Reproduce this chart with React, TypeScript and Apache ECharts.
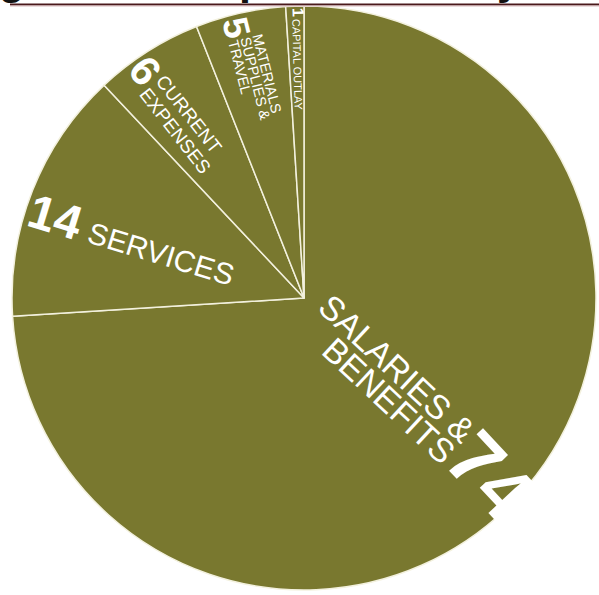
import React, { useEffect, useRef } from 'react';
import * as echarts from 'echarts';

const categories = ['SALARIES & BENEFITS', 'SERVICES', 'CURRENT EXPENSES', 'MATERIALS SUPPLIES & TRAVEL', 'CAPITAL OUTLAY'];
const values = [74, 14, 6, 5, 1];
const nameLines = [['SALARIES &', 'BENEFITS'], ['SERVICES'], ['CURRENT', 'EXPENSES'], ['MATERIALS', 'SUPPLIES &', 'TRAVEL'], ['CAPITAL OUTLAY']];
const titleText = 'Budget Total Expenditures by Category';

// label placement: distance from centre (px), compass angle (deg clockwise from 12 o'clock), rotation (deg)
const numberPlacement = [
  { d: 255, ang: 133.6, rot: -47, size: 78 },
  { d: 258.7, ang: 288.0, rot: -17, size: 48 },
  { d: 274.3, ang: 325.0, rot: -52, size: 42 },
  { d: 275.5, ang: 346.0, rot: -76, size: 36 },
  { d: 282.8, ang: 358.8, rot: -88.5, size: 16 },
];
const namePlacement = [
  { d: 113, ang: 134.3, rot: -43, size: 34, lh: 29, align: 'right' },
  { d: 146.5, ang: 287.1, rot: -17, size: 30, lh: 30, align: 'left' },
  { d: 208.3, ang: 325.2, rot: -52, size: 19, lh: 21, align: 'left' },
  { d: 222, ang: 347.5, rot: -76, size: 14.5, lh: 12.5, align: 'left' },
  { d: 230.5, ang: 358.4, rot: -88.5, size: 11, lh: 11, align: 'left' },
];

const CX = 304;
const CY = 298;
const R = 292;
const OLIVE = '#79782f';
const FONT = "'Liberation Sans', Arial, Helvetica, sans-serif";

function midAngles(): number[] {
  const total = values.reduce((a, b) => a + b, 0);
  const out: number[] = [];
  let acc = 0;
  values.forEach((v) => {
    out.push(((acc + v / 2) / total) * 360);
    acc += v;
  });
  return out;
}

function paddingFor(mid: number, p: { d: number; ang: number; rot: number }): number[] {
  const toRad = Math.PI / 180;
  const anchor = R / 2;
  const ax = CX + anchor * Math.sin(mid * toRad);
  const ay = CY - anchor * Math.cos(mid * toRad);
  const tx = CX + p.d * Math.sin(p.ang * toRad);
  const ty = CY - p.d * Math.cos(p.ang * toRad);
  const ox = tx - ax;
  const oy = ty - ay;
  const rho = p.rot * toRad;
  const lx = ox * Math.cos(rho) - oy * Math.sin(rho);
  const ly = ox * Math.sin(rho) + oy * Math.cos(rho);
  return [ly > 0 ? 2 * ly : 0, lx < 0 ? -2 * lx : 0, ly < 0 ? -2 * ly : 0, lx > 0 ? 2 * lx : 0];
}

export default function App() {
  const ref = useRef<HTMLDivElement>(null);
  useEffect(() => {
    if (!ref.current) return;
    const chart = echarts.init(ref.current, undefined, { renderer: 'svg' });
    const mids = midAngles();

    const baseData = values.map((v, i) => ({ value: v, name: categories[i] }));

    const numberData = values.map((v, i) => {
      const p = numberPlacement[i];
      return {
        value: v,
        name: categories[i],
        label: {
          show: true,
          position: 'inside',
          rotate: p.rot,
          formatter: `{n|${v}}`,
          rich: {
            n: {
              fontSize: p.size,
              lineHeight: p.size,
              fontWeight: 'bold',
              fontFamily: FONT,
              color: '#ffffff',
            },
          },
          padding: paddingFor(mids[i], p),
        },
      };
    });

    const nameData = values.map((v, i) => {
      const p = namePlacement[i];
      return {
        value: v,
        name: categories[i],
        label: {
          show: true,
          position: 'inside',
          rotate: p.rot,
          formatter: nameLines[i].map((l) => `{t|${l}}`).join('\n'),
          rich: {
            t: {
              fontSize: p.size,
              lineHeight: p.lh,
              fontFamily: FONT,
              color: '#ffffff',
              align: p.align,
            },
          },
          padding: paddingFor(mids[i], p),
        },
      };
    });

    const common = {
      type: 'pie',
      center: [CX, CY],
      radius: [0, R],
      startAngle: 90,
      clockwise: true,
      silent: true,
      labelLine: { show: false },
      labelLayout: { hideOverlap: false },
      emphasis: { disabled: true },
      avoidLabelOverlap: false,
    };

    chart.setOption({
      animation: false,
      backgroundColor: '#ffffff',
      graphic: [
        {
          type: 'text',
          x: -85,
          y: 0,
          z: 10,
          style: {
            text: titleText,
            fontSize: 43,
            fontWeight: 'bold',
            fontFamily: FONT,
            fill: '#111111',
            verticalAlign: 'bottom',
          },
        },
        {
          type: 'line',
          z: 10,
          shape: { x1: 10, y1: 4.5, x2: 599, y2: 4.5 },
          style: { stroke: '#4a1a1c', lineWidth: 2 },
        },
        {
          type: 'line',
          z: 10,
          shape: { x1: 10, y1: 6, x2: 599, y2: 6 },
          style: { stroke: '#d9b9bb', lineWidth: 1 },
        },
      ],
      series: [
        {
          ...common,
          data: baseData,
          itemStyle: { color: OLIVE, borderColor: '#f3f1de', borderWidth: 1.5 },
          label: { show: false },
        },
        {
          ...common,
          data: numberData,
          itemStyle: { color: 'rgba(0,0,0,0)', borderWidth: 0 },
        },
        {
          ...common,
          data: nameData,
          itemStyle: { color: 'rgba(0,0,0,0)', borderWidth: 0 },
        },
      ],
    });
    return () => chart.dispose();
  }, []);
  return <div ref={ref} style={{ position: 'absolute', left: 0, top: 0, width: 599, height: 595 }} />;
}
